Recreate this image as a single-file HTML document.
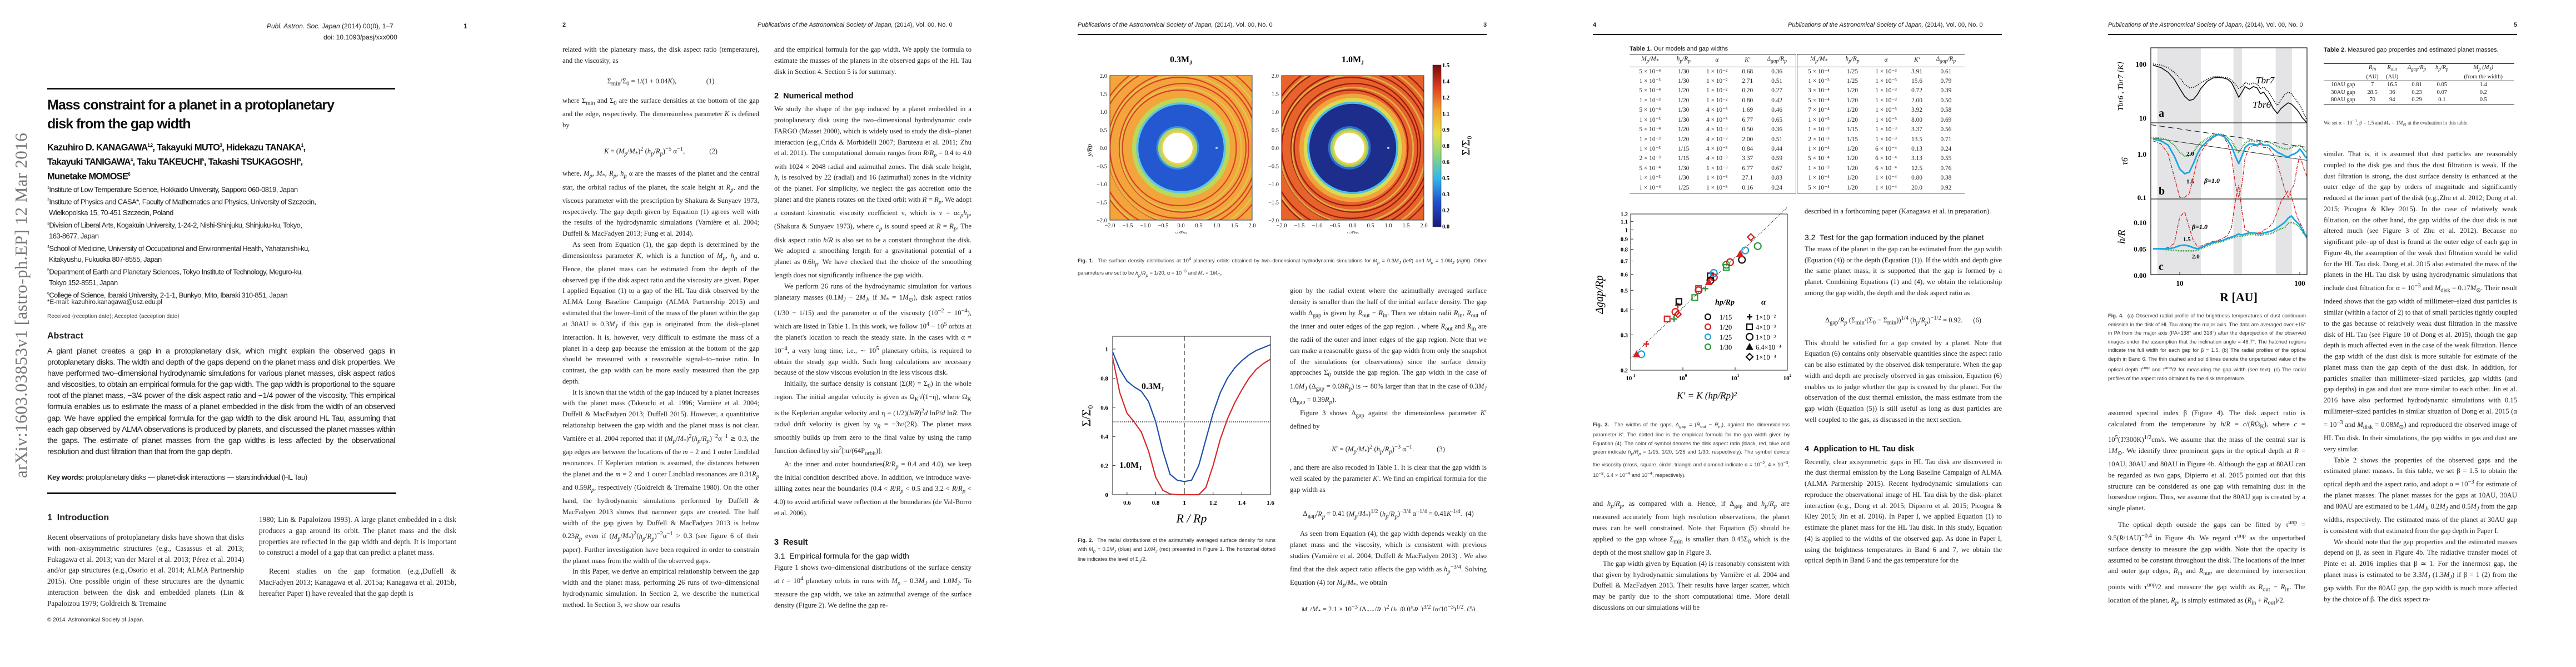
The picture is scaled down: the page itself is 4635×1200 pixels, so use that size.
<!DOCTYPE html>
<html><head><meta charset="utf-8">
<style>
*{margin:0;padding:0;box-sizing:border-box}
body{width:4635px;height:1200px;background:#fff;overflow:hidden;position:relative;font-family:"Liberation Serif",serif;color:#222}
.pg{position:absolute;top:0;width:927px;height:1200px;background:#fff}
.hdr{position:absolute;top:39px;font:italic 11px "Liberation Sans",sans-serif;color:#222}
.pn{position:absolute;top:39px;font:bold 11px "Liberation Sans",sans-serif}
.rule{position:absolute;top:61px;left:85px;width:736px;height:2px;background:#111}
.col{position:absolute;font:12.6px/19.75px "Liberation Serif",serif;text-align:justify;overflow:hidden;color:#222}
.col p{text-indent:18px}
.col p.ni{text-indent:0}
.cap{position:absolute;font:9.3px/15.5px "Liberation Sans",sans-serif;text-align:justify;color:#333}
.h2{font:bold 14.5px "Liberation Sans",sans-serif;margin:14px 0 6px;color:#111}
.h3{font:14px "Liberation Sans",sans-serif;margin:8px 0 4px;color:#111}
.eq{text-align:center;margin:6px 0;white-space:nowrap}
svg text{font-family:"Liberation Serif",serif}
table{border-collapse:collapse}
</style></head><body>

<!-- PAGE 1 -->
<div class="pg" style="left:0">
  <div style="position:absolute;left:20px;top:860px;transform:rotate(-90deg);transform-origin:0 0;font:31px 'Liberation Serif',serif;color:#777;white-space:nowrap;letter-spacing:0.5px">arXiv:1603.03853v1  [astro-ph.EP]  12 Mar 2016</div>
  <div style="position:absolute;left:480px;top:40px;font:italic 12px 'Liberation Sans',sans-serif">Publ. Astron. Soc. Japan <span style="font-style:normal">(2014) 00(0), 1–7</span></div>
  <div class="pn" style="left:834px;top:40px;font-size:12px">1</div>
  <div style="position:absolute;left:582px;top:60px;font:12px 'Liberation Sans',sans-serif">doi: 10.1093/pasj/xxx000</div>
  <div style="position:absolute;left:85px;top:158px;width:626px;height:3px;background:#111"></div>
  <div style="position:absolute;left:85px;top:172px;white-space:nowrap;font:bold 25px/34px 'Liberation Sans',sans-serif;letter-spacing:-1px;color:#111">Mass constraint for a planet in a protoplanetary<br>disk from the gap width</div>
  <div style="position:absolute;left:85px;top:251px;white-space:nowrap;font:bold 16.5px/22.5px 'Liberation Sans',sans-serif;letter-spacing:-0.7px;color:#111">Kazuhiro D. KANAGAWA<sup style="font-size:8px">1,2</sup>, Takayuki MUTO<sup style="font-size:8px">3</sup>, Hidekazu TANAKA<sup style="font-size:8px">1</sup>,<br>Takayuki TANIGAWA<sup style="font-size:8px">4</sup>, Taku TAKEUCHI<sup style="font-size:8px">5</sup>, Takashi TSUKAGOSHI<sup style="font-size:8px">6</sup>,<br>Munetake MOMOSE<sup style="font-size:8px">6</sup></div>
  <div style="position:absolute;left:85px;top:329px;white-space:nowrap;font:13px/19.8px 'Liberation Sans',sans-serif;letter-spacing:-0.55px;color:#222">
  <sup style="font-size:7px">1</sup>Institute of Low Temperature Science, Hokkaido University, Sapporo 060-0819, Japan<br>
  <sup style="font-size:7px">2</sup>Institute of Physics and CASA*, Faculty of Mathematics and Physics, University of Szczecin,<br>&nbsp;Wielkopolska 15, 70-451 Szczecin, Poland<br>
  <sup style="font-size:7px">3</sup>Division of Liberal Arts, Kogakuin University, 1-24-2, Nishi-Shinjuku, Shinjuku-ku, Tokyo,<br>&nbsp;163-8677, Japan<br>
  <sup style="font-size:7px">4</sup>School of Medicine, University of Occupational and Environmental Health, Yahatanishi-ku,<br>&nbsp;Kitakyushu, Fukuoka 807-8555, Japan<br>
  <sup style="font-size:7px">5</sup>Department of Earth and Planetary Sciences, Tokyo Institute of Technology, Meguro-ku,<br>&nbsp;Tokyo 152-8551, Japan<br>
  <sup style="font-size:7px">6</sup>College of Science, Ibaraki University, 2-1-1, Bunkyo, Mito, Ibaraki 310-851, Japan</div>
  <div style="position:absolute;left:85px;top:538px;font:11.5px 'Liberation Sans',sans-serif">*E-mail: kazuhiro.kanagawa@usz.edu.pl</div>
  <div style="position:absolute;left:85px;top:564px;font:10px 'Liberation Sans',sans-serif;color:#444">Received ⟨reception date⟩; Accepted ⟨acception date⟩</div>
  <div style="position:absolute;left:85px;top:596px;font:bold 16px 'Liberation Sans',sans-serif">Abstract</div>
  <div style="position:absolute;left:85px;top:622px;width:626px;font:14.2px/20.1px 'Liberation Sans',sans-serif;letter-spacing:-0.45px;text-align:justify;color:#222">A giant planet creates a gap in a protoplanetary disk, which might explain the observed gaps in protoplanetary disks. The width and depth of the gaps depend on the planet mass and disk properties. We have performed two–dimensional hydrodynamic simulations for various planet masses, disk aspect ratios and viscosities, to obtain an empirical formula for the gap width. The gap width is proportional to the square root of the planet mass, −3/4 power of the disk aspect ratio and −1/4 power of the viscosity. This empirical formula enables us to estimate the mass of a planet embedded in the disk from the width of an observed gap. We have applied the empirical formula for the gap width to the disk around HL Tau, assuming that each gap observed by ALMA observations is produced by planets, and discussed the planet masses within the gaps. The estimate of planet masses from the gap widths is less affected by the observational resolution and dust filtration than that from the gap depth.</div>
  <div style="position:absolute;left:85px;top:851px;font:13px 'Liberation Sans',sans-serif;letter-spacing:-0.4px"><b>Key words:</b> protoplanetary disks — planet-disk interactions — stars:individual (HL Tau)</div>
  <div style="position:absolute;left:85px;top:886px;width:628px;height:3px;background:#111"></div>
  <div style="position:absolute;left:85px;top:923px;font:bold 16px 'Liberation Sans',sans-serif">1&nbsp; Introduction</div>
  <div class="col" style="left:85px;top:957px;width:354px;height:140px;line-height:19.8px;font-size:13.2px"><p class="ni">Recent observations of protoplanetary disks have shown that disks with non–axisymmetric structures (e.g., Casassus et al. 2013; Fukagawa et al. 2013; van der Marel et al. 2013; Pérez et al. 2014) and/or gap structures (e.g.,Osorio et al. 2014; ALMA Partnership 2015). One possible origin of these structures are the dynamic interaction between the disk and embedded planets (Lin &amp; Papaloizou 1979; Goldreich &amp; Tremaine</p></div>
  <div class="col" style="left:466px;top:925px;width:355px;height:180px;line-height:19.8px;font-size:13.2px"><p class="ni">1980; Lin &amp; Papaloizou 1993). A large planet embedded in a disk produces a gap around its orbit. The planet mass and the disk properties are reflected in the gap width and depth. It is important to construct a model of a gap that can predict a planet mass.</p><p style="margin-top:14px">Recent studies on the gap formation (e.g.,Duffell &amp; MacFadyen 2013; Kanagawa et al. 2015a; Kanagawa et al. 2015b, hereafter Paper I) have revealed that the gap depth is</p></div>
  <div style="position:absolute;left:85px;top:1110px;font:10px 'Liberation Sans',sans-serif">© 2014. Astronomical Society of Japan.</div>
</div>

<!-- PAGE 2 -->
<div class="pg" style="left:927px">
  <div class="pn" style="left:85px">2</div>
  <div class="hdr" style="left:436px">Publications of the Astronomical Society of Japan, <span style="font-style:normal">(2014), Vol. 00, No. 0</span></div>
  <div class="col" style="left:85px;top:80px;width:354px;height:1015px">
   <p class="ni">related with the planetary mass, the disk aspect ratio (temperature), and the viscosity, as</p>
   <div class="eq" style="height:40px;line-height:40px">Σ<sub>min</sub>/Σ<sub>0</sub> = 1/(1 + 0.04<i>K</i>), &nbsp;&nbsp;&nbsp;&nbsp;&nbsp;&nbsp;&nbsp;&nbsp;&nbsp;&nbsp;&nbsp;&nbsp;&nbsp;&nbsp;&nbsp;&nbsp;(1)</div>
   <p class="ni">where Σ<sub>min</sub> and Σ<sub>0</sub> are the surface densities at the bottom of the gap and the edge, respectively. The dimensionless parameter <i>K</i> is defined by</p>
   <div class="eq" style="height:56px;line-height:56px"><i>K</i> ≡ (<i>M<sub>p</sub></i>/<i>M</i><sub>*</sub>)<sup>2</sup> (<i>h<sub>p</sub></i>/<i>R<sub>p</sub></i>)<sup>−5</sup> α<sup>−1</sup>, &nbsp;&nbsp;&nbsp;&nbsp;&nbsp;&nbsp;&nbsp;&nbsp;&nbsp;&nbsp;&nbsp;&nbsp;&nbsp;(2)</div>
   <p class="ni">where, <i>M<sub>p</sub></i>, <i>M</i><sub>*</sub>, <i>R<sub>p</sub></i>, <i>h<sub>p</sub></i> α are the masses of the planet and the central star, the orbital radius of the planet, the scale height at <i>R<sub>p</sub></i>, and the viscous parameter with the prescription by Shakura &amp; Sunyaev 1973, respectively. The gap depth given by Equation (1) agrees well with the results of the hydrodynamic simulations (Varnière et al. 2004; Duffell &amp; MacFadyen 2013; Fung et al. 2014).</p>
   <p>As seen from Equation (1), the gap depth is determined by the dimensionless parameter <i>K</i>, which is a function of <i>M<sub>p</sub></i>, <i>h<sub>p</sub></i> and α. Hence, the planet mass can be estimated from the depth of the observed gap if the disk aspect ratio and the viscosity are given. Paper I applied Equation (1) to a gap of the HL Tau disk observed by the ALMA Long Baseline Campaign (ALMA Partnership 2015) and estimated that the lower–limit of the mass of the planet within the gap at 30AU is 0.3<i>M<sub>J</sub></i> if this gap is originated from the disk–planet interaction. It is, however, very difficult to estimate the mass of a planet in a deep gap because the emission at the bottom of the gap should be measured with a reasonable signal–to–noise ratio. In contrast, the gap width can be more easily measured than the gap depth.</p>
   <p>It is known that the width of the gap induced by a planet increases with the planet mass (Takeuchi et al. 1996; Varnière et al. 2004; Duffell &amp; MacFadyen 2013; Duffell 2015). However, a quantitative relationship between the gap width and the planet mass is not clear. Varnière et al. 2004 reported that if (<i>M<sub>p</sub></i>/<i>M</i><sub>*</sub>)<sup>2</sup>(<i>h<sub>p</sub></i>/<i>R<sub>p</sub></i>)<sup>−2</sup>α<sup>−1</sup> ≳ 0.3, the gap edges are between the locations of the <i>m</i> = 2 and 1 outer Lindblad resonances. If Keplerian rotation is assumed, the distances between the planet and the <i>m</i> = 2 and 1 outer Lindblad resonances are 0.31<i>R<sub>p</sub></i> and 0.59<i>R<sub>p</sub></i>, respectively (Goldreich &amp; Tremaine 1980). On the other hand, the hydrodynamic simulations performed by Duffell &amp; MacFadyen 2013 shows that narrower gaps are created. The half width of the gap given by Duffell &amp; MacFadyen 2013 is below 0.23<i>R<sub>p</sub></i> even if (<i>M<sub>p</sub></i>/<i>M</i><sub>*</sub>)<sup>2</sup>(<i>h<sub>p</sub></i>/<i>R<sub>p</sub></i>)<sup>−2</sup>α<sup>−1</sup> &gt; 0.3 (see figure 6 of their paper). Further investigation have been required in order to constrain the planet mass from the width of the observed gaps.</p>
   <p>In this Paper, we derive an empirical relationship between the gap width and the planet mass, performing 26 runs of two–dimensional hydrodynamic simulation. In Section 2, we describe the numerical method. In Section 3, we show our results</p>
  </div>
  <div class="col" style="left:466px;top:80px;width:355px;height:1015px">
   <p class="ni">and the empirical formula for the gap width. We apply the formula to estimate the masses of the planets in the observed gaps of the HL Tau disk in Section 4. Section 5 is for summary.</p>
   <div class="h2" style="margin-top:26px">2&nbsp; Numerical method</div>
   <p class="ni">We study the shape of the gap induced by a planet embedded in a protoplanetary disk using the two–dimensional hydrodynamic code FARGO (Masset 2000), which is widely used to study the disk–planet interaction (e.g.,Crida &amp; Morbidelli 2007; Baruteau et al. 2011; Zhu et al. 2011). The computational domain ranges from <i>R</i>/<i>R<sub>p</sub></i> = 0.4 to 4.0 with 1024 × 2048 radial and azimuthal zones. The disk scale height, <i>h</i>, is resolved by 22 (radial) and 16 (azimuthal) zones in the vicinity of the planet. For simplicity, we neglect the gas accretion onto the planet and the planets rotates on the fixed orbit with <i>R</i> = <i>R<sub>p</sub></i>. We adopt a constant kinematic viscosity coefficient ν, which is ν = α<i>c<sub>p</sub>h<sub>p</sub></i>, (Shakura &amp; Sunyaev 1973), where <i>c<sub>p</sub></i> is sound speed at <i>R</i> = <i>R<sub>p</sub></i>. The disk aspect ratio <i>h</i>/<i>R</i> is also set to be a constant throughout the disk. We adopted a smoothing length for a gravitational potential of a planet as 0.6<i>h<sub>p</sub></i>. We have checked that the choice of the smoothing length does not significantly influence the gap width.</p>
   <p>We perform 26 runs of the hydrodynamic simulation for various planetary masses (0.1<i>M<sub>J</sub></i> − 2<i>M<sub>J</sub></i>, if <i>M</i><sub>*</sub> = 1<i>M</i><sub>⊙</sub>), disk aspect ratios (1/30 − 1/15) and the parameter α of the viscosity (10<sup>−2</sup> − 10<sup>−4</sup>), which are listed in Table 1. In this work, we follow 10<sup>4</sup> − 10<sup>5</sup> orbits at the planet's location to reach the steady state. In the cases with α = 10<sup>−4</sup>, a very long time, i.e., ∼ 10<sup>5</sup> planetary orbits, is required to obtain the steady gap width. Such long calculations are necessary because of the slow viscous evolution in the less viscous disk.</p>
   <p>Initially, the surface density is constant (Σ(<i>R</i>) = Σ<sub>0</sub>) in the whole region. The initial angular velocity is given as Ω<sub>K</sub>√(1−η), where Ω<sub>K</sub> is the Keplerian angular velocity and η = (1/2)(<i>h</i>/<i>R</i>)<sup>2</sup><i>d</i> ln<i>P</i>/<i>d</i> ln<i>R</i>. The radial drift velocity is given by <i>v<sub>R</sub></i> = −3ν/(2<i>R</i>). The planet mass smoothly builds up from zero to the final value by using the ramp function defined by sin<sup>2</sup>[π<i>t</i>/(64P<sub>orbit</sub>)].</p>
   <p>At the inner and outer boundaries(<i>R</i>/<i>R<sub>p</sub></i> = 0.4 and 4.0), we keep the initial condition described above. In addition, we introduce wave-killing zones near the boundaries (0.4 &lt; <i>R</i>/<i>R<sub>p</sub></i> &lt; 0.5 and 3.2 &lt; <i>R</i>/<i>R<sub>p</sub></i> &lt; 4.0) to avoid artificial wave reflection at the boundaries (de Val-Borro et al. 2006).</p>
   <div class="h2" style="margin-top:34px">3&nbsp; Result</div>
   <div class="h3">3.1&nbsp; Empirical formula for the gap width</div>
   <p class="ni">Figure 1 shows two–dimensional distributions of the surface density at <i>t</i> = 10<sup>4</sup> planetary orbits in runs with <i>M<sub>p</sub></i> = 0.3<i>M<sub>J</sub></i> and 1.0<i>M<sub>J</sub></i>. To measure the gap width, we take an azimuthal average of the surface density (Figure 2). We define the gap re-</p>
  </div>
</div>

<!-- PAGE 3 -->
<div class="pg" style="left:1854px">
  <div class="hdr" style="left:85px">Publications of the Astronomical Society of Japan, <span style="font-style:normal">(2014), Vol. 00, No. 0</span></div>
  <div class="pn" style="left:815px">3</div>
  <div class="rule"></div>
  <svg id="fig1" style="position:absolute;left:0;top:80px" width="927" height="340"></svg>
  <div class="cap" style="left:85px;top:458px;width:736px"><b>Fig. 1.</b>&nbsp; The surface density distributions at 10<sup>4</sup> planetary orbits obtained by two–dimensional hydrodynamic simulations for <i>M<sub>p</sub></i> = 0.3<i>M<sub>J</sub></i> (<i>left</i>) and <i>M<sub>p</sub></i> = 1.0<i>M<sub>J</sub></i> (<i>right</i>). Other parameters are set to be <i>h<sub>p</sub></i>/<i>R<sub>p</sub></i> = 1/20, α = 10<sup>−3</sup> and <i>M</i><sub>*</sub> = 1<i>M</i><sub>⊙</sub>.</div>
  <svg id="fig2" style="position:absolute;left:0;top:580px" width="460" height="380"></svg>
  <div class="cap" style="left:85px;top:965px;width:356px"><b>Fig. 2.</b>&nbsp; The radial distributions of the azimuthally averaged surface density for runs with <i>M<sub>p</sub></i> = 0.3<i>M<sub>J</sub></i> (blue) and 1.0<i>M<sub>J</sub></i> (red) presented in Figure 1. The horizontal dotted line indicates the level of Σ<sub>0</sub>/2.</div>
  <div class="col" style="left:467px;top:514px;width:354px;height:585px">
   <p class="ni">gion by the radial extent where the azimuthally averaged surface density is smaller than the half of the initial surface density. The gap width Δ<sub>gap</sub> is given by <i>R</i><sub>out</sub> − <i>R</i><sub>in</sub>. Then we obtain radii <i>R</i><sub>in</sub>, <i>R</i><sub>out</sub> of the inner and outer edges of the gap region. , where <i>R</i><sub>out</sub> and <i>R</i><sub>in</sub> are the radii of the outer and inner edges of the gap region. Note that we can make a reasonable guess of the gap width from only the snapshot of the simulations (or observations) since the surface density approaches Σ<sub>0</sub> outside the gap region. The gap width in the case of 1.0<i>M<sub>J</sub></i> (Δ<sub>gap</sub> = 0.69<i>R<sub>p</sub></i>) is ∼ 80% larger than that in the case of 0.3<i>M<sub>J</sub></i> (Δ<sub>gap</sub> = 0.39<i>R<sub>p</sub></i>).</p>
   <p>Figure 3 shows Δ<sub>gap</sub> against the dimensionless parameter <i>K</i>′ defined by</p>
   <div class="eq" style="height:42px;line-height:42px"><i>K</i>′ = (<i>M<sub>p</sub></i>/<i>M</i><sub>*</sub>)<sup>2</sup> (<i>h<sub>p</sub></i>/<i>R<sub>p</sub></i>)<sup>−3</sup> α<sup>−1</sup>. &nbsp;&nbsp;&nbsp;&nbsp;&nbsp;&nbsp;&nbsp;&nbsp;&nbsp;&nbsp;&nbsp;&nbsp;(3)</div>
   <p class="ni">, and there are also recoded in Table 1. It is clear that the gap width is well scaled by the parameter <i>K</i>′. We find an empirical formula for the gap width as</p>
   <div class="eq" style="height:48px;line-height:48px">Δ<sub>gap</sub>/<i>R<sub>p</sub></i> = 0.41 (<i>M<sub>p</sub></i>/<i>M</i><sub>*</sub>)<sup>1/2</sup> (<i>h<sub>p</sub></i>/<i>R<sub>p</sub></i>)<sup>−3/4</sup> α<sup>−1/4</sup> = 0.41<i>K</i>′<sup>1/4</sup>. &nbsp;(4)</div>
   <p>As seen from Equation (4), the gap width depends weakly on the planet mass and the viscosity, which is consistent with previous studies (Varnière et al. 2004; Duffell &amp; MacFadyen 2013) . We also find that the disk aspect ratio affects the gap width as <i>h<sub>p</sub></i><sup>−3/4</sup>. Solving Equation (4) for <i>M<sub>p</sub></i>/<i>M</i><sub>*</sub>, we obtain</p>
   <div class="eq" style="height:48px;line-height:48px"><i>M<sub>p</sub></i>/<i>M</i><sub>*</sub> = 2.1 × 10<sup>−3</sup> (Δ<sub>gap</sub>/<i>R<sub>p</sub></i>)<sup>2</sup> (<i>h<sub>p</sub></i>/0.05<i>R<sub>p</sub></i>)<sup>3/2</sup> (α/10<sup>−3</sup>)<sup>1/2</sup>. (5)</div>
   <p class="ni">This equation allows us to estimate the planet mass from the observation gap width. The planet mass strongly depends on Δ<sub>gap</sub></p>
  </div>
</div>

<!-- PAGE 4 -->
<div class="pg" style="left:2781px">
  <div class="pn" style="left:85px">4</div>
  <div class="hdr" style="left:436px">Publications of the Astronomical Society of Japan, <span style="font-style:normal">(2014), Vol. 00, No. 0</span></div>
  <div class="rule"></div>
  <div style="position:absolute;left:151px;top:82px;font:11px 'Liberation Sans',sans-serif"><b>Table 1.</b> Our models and gap widths</div>
  <div id="t1" style="position:absolute;left:151px;top:97px;width:603px"></div>
  <svg id="fig3" style="position:absolute;left:0;top:370px" width="460" height="380"></svg>
  <div class="cap" style="left:85px;top:757px;width:354px"><b>Fig. 3.</b>&nbsp; The widths of the gaps, Δ<sub>gap</sub> = (<i>R</i><sub>out</sub> − <i>R</i><sub>in</sub>), against the dimensionless parameter <i>K</i>′. The dotted line is the empirical formula for the gap width given by Equation (4). The color of symbol denotes the disk aspect ratio (black, red, blue and green indicate <i>h<sub>p</sub></i>/<i>R<sub>p</sub></i> = 1/15, 1/20, 1/25 and 1/30, respectively). The symbol denote the viscosity (cross, square, circle, triangle and diamond indicate α = 10<sup>−2</sup>, 4 × 10<sup>−3</sup>, 10<sup>−3</sup>, 6.4 × 10<sup>−4</sup> and 10<sup>−4</sup>, respectively).</div>
  <div class="col" style="left:85px;top:897px;width:354px;height:200px">
   <p class="ni">and <i>h<sub>p</sub></i>/<i>R<sub>p</sub></i>, as compared with α. Hence, if Δ<sub>gap</sub> and <i>h<sub>p</sub></i>/<i>R<sub>p</sub></i> are measured accurately from high resolution observations, the planet mass can be well constrained. Note that Equation (5) should be applied to the gap whose Σ<sub>min</sub> is smaller than 0.45Σ<sub>0</sub> which is the depth of the most shallow gap in Figure 3.</p>
   <p>The gap width given by Equation (4) is reasonably consistent with that given by hydrodynamic simulations by Varnière et al. 2004 and Duffell &amp; MacFadyen 2013. Their results have larger scatter, which may be partly due to the short computational time. More detail discussions on our simulations will be</p>
  </div>
  <div class="col" style="left:466px;top:371px;width:355px;height:728px">
   <p class="ni">described in a forthcoming paper (Kanagawa et al. in preparation).</p>
   <div class="h3" style="margin-top:28px">3.2&nbsp; Test for the gap formation induced by the planet</div>
   <p class="ni">The mass of the planet in the gap can be estimated from the gap width (Equation (4)) or the depth (Equation (1)). If the width and depth give the same planet mass, it is supported that the gap is formed by a planet. Combining Equations (1) and (4), we obtain the relationship among the gap width, the depth and the disk aspect ratio as</p>
   <div class="eq" style="height:58px;line-height:58px">Δ<sub>gap</sub>/<i>R<sub>p</sub></i> (Σ<sub>min</sub>/(Σ<sub>0</sub> − Σ<sub>min</sub>))<sup>1/4</sup> (<i>h<sub>p</sub></i>/<i>R<sub>p</sub></i>)<sup>−1/2</sup> = 0.92. &nbsp;&nbsp;&nbsp;&nbsp;&nbsp;(6)</div>
   <p class="ni">This should be satisfied for a gap created by a planet. Note that Equation (6) contains only observable quantities since the aspect ratio can be also estimated by the observed disk temperature. When the gap width and depth are precisely observed in gas emission, Equation (6) enables us to judge whether the gap is created by the planet. For the observation of the dust thermal emission, the mass estimate from the gap width (Equation (5)) is still useful as long as dust particles are well coupled to the gas, as discussed in the next section.</p>
   <div class="h2" style="margin-top:34px">4&nbsp; Application to HL Tau disk</div>
   <p class="ni">Recently, clear axisymmetric gaps in HL Tau disk are discovered in the dust thermal emission by the Long Baseline Campaign of ALMA (ALMA Partnership 2015). Recent hydrodynamic simulations can reproduce the observational image of HL Tau disk by the disk–planet interaction (e.g., Dong et al. 2015; Dipierro et al. 2015; Picogna &amp; Kley 2015; Jin et al. 2016). In Paper I, we applied Equation (1) to estimate the planet mass for the HL Tau disk. In this study, Equation (4) is applied to the widths of the observed gap. As done in Paper I, using the brightness temperatures in Band 6 and 7, we obtain the optical depth in Band 6 and the gas temperature for the</p>
  </div>
</div>

<!-- PAGE 5 -->
<div class="pg" style="left:3708px">
  <div class="hdr" style="left:85px">Publications of the Astronomical Society of Japan, <span style="font-style:normal">(2014), Vol. 00, No. 0</span></div>
  <div class="pn" style="left:815px">5</div>
  <div class="rule"></div>
  <svg id="fig4" style="position:absolute;left:0;top:70px" width="460" height="480"></svg>
  <div class="cap" style="left:85px;top:561px;width:356px"><b>Fig. 4.</b>&nbsp; (a) Observed radial profile of the brightness temperatures of dust continuum emission in the disk of HL Tau along the major axis. The data are averaged over ±15° in PA from the major axis (PA=138° and 318°) after the deprojection of the observed images under the assumption that the inclination angle = 46.7°. The hatched regions indicate the full width for each gap for β = 1.5. (b) The radial profiles of the optical depth in Band 6. The thin dashed and solid lines denote the unperturbed value of the optical depth τ<sup>unp</sup> and τ<sup>unp</sup>/2 for measuring the gap width (see text). (c) The radial profiles of the aspect ratio obtained by the disk temperature.</div>
  <div class="col" style="left:85px;top:734px;width:355px;height:365px">
   <p class="ni">assumed spectral index β (Figure 4). The disk aspect ratio is calculated from the temperature by <i>h</i>/<i>R</i> = <i>c</i>/(<i>R</i>Ω<sub>K</sub>), where <i>c</i> = 10<sup>5</sup>(<i>T</i>/300K)<sup>1/2</sup>cm/s. We assume that the mass of the central star is 1<i>M</i><sub>⊙</sub>. We identify three prominent gaps in the optical depth at <i>R</i> = 10AU, 30AU and 80AU in Figure 4b. Although the gap at 80AU can be regarded as two gaps, Dipierro et al. 2015 pointed out that this structure can be considered as one gap with remaining dust in the horseshoe region. Thus, we assume that the 80AU gap is created by a single planet.</p>
   <p style="margin-top:6px">The optical depth outside the gaps can be fitted by τ<sup>unp</sup> = 9.5(<i>R</i>/1AU)<sup>−0.4</sup> in Figure 4b. We regard τ<sup>unp</sup> as the unperturbed surface density to measure the gap width. Note that the opacity is assumed to be constant throughout the disk. The locations of the inner and outer gap edges, <i>R</i><sub>in</sub> and <i>R</i><sub>out</sub>, are determined by intersection points with τ<sup>unp</sup>/2 and measure the gap width as <i>R</i><sub>out</sub> − <i>R</i><sub>in</sub>. The location of the planet, <i>R<sub>p</sub></i>, is simply estimated as (<i>R</i><sub>in</sub> + <i>R</i><sub>out</sub>)/2.</p>
   <p style="margin-top:6px">We assume that the gap widths of the gas and dust disks are</p>
  </div>
  <div style="position:absolute;left:473px;top:82px;width:330px;font:11px/17px 'Liberation Sans',sans-serif"><b>Table 2.</b> Measured gap properties and estimated planet masses.</div>
  <div id="t2" style="position:absolute;left:473px;top:114px;width:343px"></div>
  <div class="cap" style="left:473px;top:210px;width:345px;font:9.3px/15.5px 'Liberation Serif',serif">We set α = 10<sup>−3</sup>, β = 1.5 and <i>M</i><sub>*</sub> = 1<i>M</i><sub>⊙</sub> at the evaluation in this table.</div>
  <div class="col" style="left:473px;top:268px;width:348px;height:830px">
   <p class="ni">similar. That is, it is assumed that dust particles are reasonably coupled to the disk gas and thus the dust filtration is weak. If the dust filtration is strong, the dust surface density is enhanced at the outer edge of the gap by orders of magnitude and significantly reduced at the inner part of the disk (e.g.,Zhu et al. 2012; Dong et al. 2015; Picogna &amp; Kley 2015). In the case of relatively weak filtration, on the other hand, the gap widths of the dust disk is not altered much (see Figure 3 of Zhu et al. 2012). Because no significant pile–up of dust is found at the outer edge of each gap in Figure 4b, the assumption of the weak dust filtration would be valid for the HL Tau disk. Dong et al. 2015 also estimated the mass of the planets in the HL Tau disk by using hydrodynamic simulations that include dust filtration for α = 10<sup>−3</sup> and <i>M</i><sub>disk</sub> = 0.17<i>M</i><sub>⊙</sub>. Their result indeed shows that the gap width of millimeter–sized dust particles is similar (within a factor of 2) to that of small particles tightly coupled to the gas because of relatively weak dust filtration in the massive disk of HL Tau (see Figure 10 of Dong et al. 2015), though the gap depth is much affected even in the case of the weak filtration. Hence the gap width of the dust disk is more suitable for estimate of the planet mass than the gap depth of the dust disk. In addition, for particles smaller than millimeter–sized particles, gap widths (and gap depths) in gas and dust are more similar to each other. Jin et al. 2016 have also performed hydrodynamic simulations with 0.15 millimeter–sized particles in similar situation of Dong et al. 2015 (α = 10<sup>−3</sup> and <i>M</i><sub>disk</sub> = 0.08<i>M</i><sub>⊙</sub>) and reproduced the observed image of HL Tau disk. In their simulations, the gap widths in gas and dust are very similar.</p>
   <p>Table 2 shows the properties of the observed gaps and the estimated planet masses. In this table, we set β = 1.5 to obtain the optical depth and the aspect ratio, and adopt α = 10<sup>−3</sup> for estimate of the planet masses. The planet masses for the gaps at 10AU, 30AU and 80AU are estimated to be 1.4<i>M<sub>J</sub></i>, 0.2<i>M<sub>J</sub></i> and 0.5<i>M<sub>J</sub></i> from the gap widths, respectively. The estimated mass of the planet at 30AU gap is consistent with that estimated from the gap depth in Paper I.</p>
   <p>We should note that the gap properties and the estimated masses depend on β, as seen in Figure 4b. The radiative transfer model of Pinte et al. 2016 implies that β ≃ 1. For the innermost gap, the planet mass is estimated to be 3.3<i>M<sub>J</sub></i> (1.3<i>M<sub>J</sub></i>) if β = 1 (2) from the gap width. For the 80AU gap, the gap width is much more affected by the choice of β. The disk aspect ra-</p>
  </div>
</div>

<script>
// ---------- Figure 2 data ----------
const f2R = [0.5,0.55,0.6,0.65,0.7,0.75,0.8,0.85,0.9,0.95,1.0,1.05,1.1,1.15,1.2,1.25,1.3,1.35,1.4,1.45,1.5,1.55,1.6];
const f2Blue = [0.98,0.86,0.78,0.74,0.71,0.64,0.50,0.30,0.14,0.10,0.09,0.10,0.20,0.38,0.56,0.70,0.80,0.87,0.92,0.96,0.99,1.01,1.03];
const f2Red = [0.94,0.70,0.56,0.50,0.43,0.30,0.12,0.03,0.005,0,0,0,0,0.05,0.20,0.38,0.52,0.63,0.72,0.80,0.86,0.90,0.93];
const f2XTicks = [0.6,0.8,1,1.2,1.4,1.6];
const f2YTicks = [0,0.2,0.4,0.6,0.8,1];
// ---------- Figure 3 data (Table 1) ----------
const t1Mp = ["5 × 10⁻⁴","1 × 10⁻³","5 × 10⁻⁴","1 × 10⁻³","5 × 10⁻⁴","1 × 10⁻³","5 × 10⁻⁴","1 × 10⁻³","1 × 10⁻³","2 × 10⁻³","5 × 10⁻⁴","1 × 10⁻³","1 × 10⁻⁴","5 × 10⁻⁴","1 × 10⁻³","3 × 10⁻⁴","5 × 10⁻⁴","7 × 10⁻⁴","1 × 10⁻³","1 × 10⁻³","2 × 10⁻³","1 × 10⁻⁴","5 × 10⁻⁴","1 × 10⁻³","1 × 10⁻⁴","5 × 10⁻⁴"];
const t1H = ["1/30","1/30","1/20","1/20","1/30","1/30","1/20","1/20","1/15","1/15","1/30","1/30","1/25","1/25","1/25","1/20","1/20","1/20","1/20","1/15","1/15","1/20","1/20","1/20","1/20","1/20"];
const t1Alpha = ["1e-2","1e-2","1e-2","1e-2","4e-3","4e-3","4e-3","4e-3","4e-3","4e-3","1e-3","1e-3","1e-3","1e-3","1e-3","1e-3","1e-3","1e-3","1e-3","1e-3","1e-3","6e-4","6e-4","6e-4","1e-4","1e-4"];
const t1K = [0.68,2.71,0.20,0.80,1.69,6.77,0.50,2.00,0.84,3.37,6.77,27.1,0.16,3.91,15.6,0.72,2.00,3.92,8.00,3.37,13.5,0.13,3.13,12.5,0.80,20.0];
const t1Gap = [0.36,0.51,0.27,0.42,0.46,0.65,0.36,0.51,0.44,0.59,0.67,0.83,0.24,0.61,0.79,0.39,0.50,0.58,0.69,0.56,0.71,0.24,0.55,0.76,0.38,0.92];
const f3YTicks = [0.2,0.3,0.4,0.5,0.6,0.7,0.8,0.9,1,1.1,1.2];
// ---------- Figure 4 data ----------
const f4R = [6,7,8,9,10,11,12,13,14,15,17,19,21,23,25,27,29,31,33,35,38,41,44,47,50,55,60,65,70,75,80,85,90,95,100,105,110,115];
const f4Tb6 = [95,85,70,52,35,25,21,22,27,35,48,55,56,55,52,45,33,24,30,38,34,38,36,28,30,22,15,12,15,17,19,18,16,14,12,10,9,8];
const f4Tb7 = [100,95,85,70,55,42,36,37,40,45,52,58,58,57,55,50,42,35,38,45,42,44,42,35,37,30,22,17,22,27,30,28,24,20,17,14,11,9];
const f4Tau15 = [2.2,2.0,1.6,0.9,0.45,0.35,0.38,0.6,1.0,1.4,2.0,2.5,2.8,2.6,2.1,1.5,0.9,0.6,0.9,1.4,1.7,1.7,1.6,1.8,1.6,1.6,1.3,1.1,1.0,0.9,0.85,0.95,1.0,1.1,1.3,1.1,0.9,0.8];
const f4Tau10 = [2.0,1.7,1.0,0.3,0.1,0.1,0.12,0.3,0.7,1.1,1.8,2.4,2.8,2.5,1.8,0.9,0.2,0.1,0.2,0.8,1.4,1.6,1.5,1.7,1.4,1.4,1.0,0.6,0.3,0.15,0.1,0.15,0.2,0.5,0.9,0.6,0.4,0.3];
const f4Tau20 = [2.4,2.3,2.1,1.6,1.1,0.9,0.9,1.1,1.5,1.8,2.3,2.7,2.9,2.8,2.4,2.0,1.4,1.1,1.4,1.8,2.0,2.0,1.9,2.0,1.9,1.9,1.7,1.5,1.4,1.3,1.3,1.4,1.5,1.5,1.6,1.4,1.2,1.1];
const f4Hr15 = [0.05,0.05,0.05,0.052,0.056,0.057,0.055,0.052,0.05,0.052,0.058,0.062,0.064,0.066,0.07,0.072,0.075,0.078,0.076,0.078,0.08,0.08,0.079,0.078,0.08,0.082,0.085,0.09,0.095,0.1,0.108,0.112,0.105,0.1,0.095,0.085,0.078,0.07];
const f4Hr10 = [0.05,0.05,0.052,0.06,0.11,0.12,0.09,0.065,0.055,0.055,0.06,0.064,0.066,0.07,0.075,0.09,0.14,0.17,0.12,0.085,0.082,0.08,0.08,0.08,0.085,0.09,0.1,0.12,0.14,0.15,0.16,0.15,0.13,0.11,0.1,0.09,0.08,0.075];
const f4Hr20 = [0.05,0.049,0.048,0.047,0.046,0.046,0.046,0.046,0.047,0.05,0.055,0.06,0.062,0.064,0.068,0.07,0.072,0.074,0.073,0.075,0.077,0.077,0.076,0.075,0.077,0.078,0.08,0.085,0.088,0.09,0.098,0.1,0.098,0.095,0.09,0.082,0.076,0.07];
const f4Gaps = [[6.5,15],[28,33],[63,86]];
// ---------- Table 2 ----------
const t2Names = ["10AU gap","30AU gap","80AU gap"];
const t2Rin = [7,28.5,70];
const t2Rout = [16.5,36,94];
const t2Gap = [0.81,0.23,0.29];
const t2H = [0.05,0.07,0.1];
const t2Mp = [1.4,0.2,0.5];

const NS="http://www.w3.org/2000/svg";
function mk(parent,tag,attrs,txt){const e=document.createElementNS(NS,tag);for(const k in attrs)e.setAttribute(k,attrs[k]);if(txt!==undefined)e.textContent=txt;parent.appendChild(e);return e;}

// ===== Figure 1 =====
(function(){
 const svg=document.getElementById('fig1');
 const defs=mk(svg,'defs',{});
 const g=mk(defs,'linearGradient',{id:'cbar',x1:0,y1:1,x2:0,y2:0});
 [["0","#1a1a7a"],["0.15","#1f4fd0"],["0.3","#30b8f0"],["0.45","#8fd878"],["0.58","#e8e040"],["0.72","#f6a030"],["0.86","#e04020"],["1","#7a0a0a"]].forEach(s=>mk(g,'stop',{offset:s[0],'stop-color':s[1]}));
 const panels=[{x:143,name:'left',bg:'#f3a53c',rings:[[1.38,'#bcd85a'],[1.26,'#5ec6e6'],[1.2,'#2358d0'],[0.6,'#3f90dc'],[0.55,'#a8d870'],[0.48,'#ecd048'],[0.42,'#ffffff']],arm:'#d8402a',title:'0.3M'},
  {x:452,name:'right',bg:'#e8622c',rings:[[1.5,'#f2a23c'],[1.38,'#d9dc52'],[1.28,'#4cbce8'],[1.22,'#1c2d8c'],[0.6,'#2f6ad2'],[0.54,'#8fd070'],[0.48,'#e8d048'],[0.42,'#ffffff']],arm:'#9a1a10',title:'1.0M'}];
 const top=56, W=256, H=260;
 panels.forEach(p=>{
  const cx=p.x+W/2, cy=top+H/2, sx=W/4, sy=H/4;
  const clip=mk(defs,'clipPath',{id:'clip'+p.name});mk(clip,'rect',{x:p.x,y:top,width:W,height:H});
  const grp=mk(svg,'g',{'clip-path':'url(#clip'+p.name+')'});
  
  
  mk(grp,'rect',{x:p.x,y:top,width:W,height:H,fill:p.bg});
  [1.6,1.78,1.95,2.12,2.3,2.5].forEach((r,i)=>mk(grp,'ellipse',{cx:cx+(i%2?3:-3),cy:cy,rx:r*sx,ry:r*sy,fill:'none',stroke:p.arm,'stroke-width':2.2}));
  [1.7,2.05,2.4].forEach(r=>mk(grp,'ellipse',{cx:cx,cy:cy+2,rx:r*sx,ry:r*sy,fill:'none',stroke:'#d8d050','stroke-width':3,opacity:0.7}));
  p.rings.forEach(rc=>mk(grp,'ellipse',{cx:cx+ (rc[0]<0.7?-6:0),cy:cy,rx:rc[0]*sx,ry:rc[0]*sy,fill:rc[1]}));
  mk(grp,'circle',{cx:cx+1.0*sx,cy:cy,r:2,fill:'#9fe0f0'});
  mk(svg,'rect',{x:p.x,y:top,width:W,height:H,fill:'none',stroke:'#333','stroke-width':1});
  const ty=[2.0,1.5,1.0,0.5,0.0,-0.5,-1.0,-1.5,-2.0];
  ty.forEach(v=>{const y=cy-v*sy;mk(svg,'text',{x:p.x-5,y:y+4,'text-anchor':'end','font-size':10.5,fill:'#222'},(v<0?'−':'')+Math.abs(v).toFixed(1));});
  ty.slice().reverse().forEach(v=>{const x=cx+v*sx;mk(svg,'text',{x:x,y:top+H+13,'text-anchor':'middle','font-size':10.5,fill:'#222'},(v<0?'−':'')+Math.abs(v).toFixed(1));});
  mk(svg,'text',{x:cx,y:top+H+28,'text-anchor':'middle','font-size':12,'font-style':'italic'},'x/Rp');
  const tt=mk(svg,'text',{x:cx,y:top-24,'text-anchor':'middle','font-size':16,'font-weight':'bold'},p.title);
  mk(tt,'tspan',{'font-size':10,dy:4},'J');
 });
 mk(svg,'text',{x:110,y:190,'text-anchor':'middle','font-size':12,'font-style':'italic',transform:'rotate(-90 110 190)'},'y/Rp');
 mk(svg,'rect',{x:724,y:37,width:15,height:291,fill:'url(#cbar)',stroke:'#333','stroke-width':0.6});
 const cbl=["1.5","1.4","1.2","1.1","0.9","0.8","0.6","0.5","0.3","0.2","0.0"];
 cbl.forEach((l,i)=>mk(svg,'text',{x:741,y:41+i*29,'font-size':10.5,'font-weight':'bold'},l));
 mk(svg,'text',{x:790,y:182,'text-anchor':'middle','font-size':20,transform:'rotate(-90 790 182)'},'Σ/Σ₀');
})();

// ===== Figure 2 =====
(function(){
 const svg=document.getElementById('fig2');
 const L=148,R=432,T=25,B=310;
 const x=v=>L+(v-0.5)/(1.6-0.5)*(R-L);
 const y=v=>B-(v-0)/(1.0)*(B-48);
 mk(svg,'rect',{x:L,y:T,width:R-L,height:B-T,fill:'none',stroke:'#222','stroke-width':1});
 f2XTicks.forEach(v=>{mk(svg,'line',{x1:x(v),x2:x(v),y1:B,y2:B-5,stroke:'#222'});mk(svg,'text',{x:x(v),y:B+18,'text-anchor':'middle','font-size':11,'font-weight':'bold'},String(v));});
 f2YTicks.forEach(v=>{mk(svg,'line',{x1:L,x2:L+5,y1:y(v),y2:y(v),stroke:'#222'});mk(svg,'text',{x:L-8,y:y(v)+4,'text-anchor':'end','font-size':11,'font-weight':'bold'},String(v));});
 mk(svg,'line',{x1:x(1),x2:x(1),y1:T,y2:B,stroke:'#222','stroke-dasharray':'8 5','stroke-width':1});
 mk(svg,'line',{x1:L,x2:R,y1:y(0.5),y2:y(0.5),stroke:'#111','stroke-dasharray':'1.5 2','stroke-width':1.6});
 const line=(arr,col,nm)=>{const p=mk(svg,'path',{d:f2R.map((r,i)=>(i?'L':'M')+x(r).toFixed(1)+','+y(arr[i]).toFixed(1)).join(''),fill:'none',stroke:col,'stroke-width':2.2});
  };
 line(f2Blue,'#1f4fa8','line-0.3mj');line(f2Red,'#d82828','line-1.0mj');
 let t=mk(svg,'text',{x:200,y:120,'font-size':16,'font-weight':'bold'},'0.3M');mk(t,'tspan',{'font-size':10,dy:4},'J');
 t=mk(svg,'text',{x:160,y:262,'font-size':16,'font-weight':'bold'},'1.0M');mk(t,'tspan',{'font-size':10,dy:4},'J');
 mk(svg,'text',{x:290,y:360,'text-anchor':'middle','font-size':22,'font-style':'italic'},'R / Rp');
 mk(svg,'text',{x:108,y:168,'text-anchor':'middle','font-size':22,transform:'rotate(-90 108 168)'},'Σ/Σ₀');
})();

// ===== Table 1 =====
(function(){
 const d=document.getElementById('t1');
 const fmtA=a=>({"1e-2":"1 × 10⁻²","4e-3":"4 × 10⁻³","1e-3":"1 × 10⁻³","6e-4":"6 × 10⁻⁴","1e-4":"1 × 10⁻⁴"})[a];
 let h='<table style="width:603px;font:11.3px/17.4px \'Liberation Serif\',serif;text-align:center;border-top:1px solid #222;border-bottom:1px solid #222"><tr style="border-bottom:1px solid #222;font-style:italic">';
 const hd=['M<sub>p</sub>/M<sub>*</sub>','h<sub>p</sub>/R<sub>p</sub>','α','K′','Δ<sub>gap</sub>/R<sub>p</sub>'];
 hd.forEach(x=>h+='<td>'+x+'</td>');h+='<td style="border-left:3px double #222"></td>';hd.forEach(x=>h+='<td>'+x+'</td>');h+='</tr>';
 for(let i=0;i<13;i++){h+='<tr>';[i,i+13].forEach((k,j)=>{if(j)h+='<td style="border-left:3px double #222"></td>';h+='<td>'+t1Mp[k]+'</td><td>'+t1H[k]+'</td><td>'+fmtA(t1Alpha[k])+'</td><td>'+t1K[k].toFixed(t1K[k]>=10?1:2)+'</td><td>'+t1Gap[k].toFixed(2)+'</td>';});h+='</tr>';}
 d.innerHTML=h+'</table>';
})();

// ===== Figure 3 =====
(function(){
 const svg=document.getElementById('fig3');
 const L=153,R=435,T=15,B=296;
 const x=v=>L+(Math.log10(v)+1)/3*(R-L);
 const y=v=>B-(Math.log10(v)-Math.log10(0.2))/Math.log10(6)*(B-T);
 mk(svg,'rect',{x:L,y:T,width:R-L,height:B-T,fill:'none',stroke:'#222','stroke-width':1});
 f3YTicks.forEach(v=>{mk(svg,'line',{x1:L,x2:L+5,y1:y(v),y2:y(v),stroke:'#222'});mk(svg,'text',{x:L-5,y:y(v)+4,'text-anchor':'end','font-size':10.5,'font-weight':'bold'},String(v));});
 [-1,0,1,2].forEach(e=>{const xv=x(Math.pow(10,e));mk(svg,'line',{x1:xv,x2:xv,y1:B,y2:B-5,stroke:'#222'});const t=mk(svg,'text',{x:xv,y:B+18,'text-anchor':'middle','font-size':11,'font-weight':'bold'},'10');mk(t,'tspan',{'font-size':7.5,dy:-6},String(e));});
 mk(svg,'line',{x1:x(0.1),y1:y(0.41*Math.pow(0.1,0.25)),x2:x(100),y2:y(0.41*Math.pow(100,0.25)),stroke:'#222','stroke-dasharray':'1.5 2','stroke-width':1.2});
 const col={"1/15":"#111","1/20":"#d82020","1/25":"#1aa0e0","1/30":"#2a9a3a"};
 const sym=(cx,cy,a,c)=>{
  if(a==="1e-2"){mk(svg,'path',{d:`M${cx-5},${cy}h10M${cx},${cy-5}v10`,stroke:c,'stroke-width':2.5});}
  else if(a==="4e-3"){mk(svg,'rect',{x:cx-5,y:cy-5,width:10,height:10,fill:'none',stroke:c,'stroke-width':2.2});}
  else if(a==="1e-3"){mk(svg,'circle',{cx:cx,cy:cy,r:6,fill:'none',stroke:c,'stroke-width':2.2});}
  else if(a==="6e-4"){mk(svg,'path',{d:`M${cx},${cy-6}L${cx+6},${cy+5}L${cx-6},${cy+5}Z`,fill:c,stroke:c,'stroke-width':1});}
  else {mk(svg,'path',{d:`M${cx},${cy-6}L${cx+6},${cy}L${cx},${cy+6}L${cx-6},${cy}Z`,fill:'none',stroke:c,'stroke-width':2.2});}
 };
 t1K.forEach((k,i)=>sym(x(k),y(t1Gap[i]),t1Alpha[i],col[t1H[i]]));
 mk(svg,'text',{x:305,y:178,'font-size':14,'font-weight':'bold','font-style':'italic'},'hp/Rp');
 mk(svg,'text',{x:388,y:178,'font-size':15,'font-weight':'bold','font-style':'italic'},'α');
 ["1/15","1/20","1/25","1/30"].forEach((h,i)=>{mk(svg,'circle',{cx:292,cy:200+i*18,r:5,fill:'none',stroke:col[h],'stroke-width':2.2});mk(svg,'text',{x:313,y:205+i*18,'font-size':12.5},h);});
 ["1e-2","4e-3","1e-3","6e-4","1e-4"].forEach((a,i)=>{sym(367,200+i*18,a,'#111');});
 ["1×10⁻²","4×10⁻³","1×10⁻³","6.4×10⁻⁴","1×10⁻⁴"].forEach((l,i)=>mk(svg,'text',{x:378,y:205+i*18,'font-size':12.5},l));
 mk(svg,'text',{x:290,y:347,'text-anchor':'middle','font-size':17,'font-style':'italic'},"K′ = K (hp/Rp)²");
 mk(svg,'text',{x:103,y:160,'text-anchor':'middle','font-size':20,'font-style':'italic',transform:'rotate(-90 103 160)'},'Δgap/Rp');
})();

// ===== Figure 4 =====
(function(){
 const svg=document.getElementById('fig4');
 const L=162,R=443,T=16,Bend=424;
 const x=v=>214+(Math.log10(v)-1)*216;
 const pb={t:151}, pc={t:288};
 const ya=v=>142-(Math.log10(v)-1)*97;
 const yb=v=>207-Math.log10(v)*78;
 const yc=v=>425-v/0.05*47.5;
 const defs=mk(svg,'defs',{});const cp=mk(defs,'clipPath',{id:'c4'});mk(cp,'rect',{x:L,y:T,width:R-L,height:Bend-T});
 f4Gaps.forEach(g=>{const r=mk(svg,'rect',{x:x(g[0]),y:T,width:x(g[1])-x(g[0]),height:Bend-T,fill:'#e4e4e6'});});
 const G=mk(svg,'g',{'clip-path':'url(#c4)'});
 const path=(arr,fy,col,w,dash,nm)=>{const p=mk(G,'path',{d:f4R.map((r,i)=>(i?'L':'M')+x(r).toFixed(1)+','+fy(arr[i]).toFixed(1)).join(''),fill:'none',stroke:col,'stroke-width':w,'stroke-dasharray':dash||'none','stroke-linejoin':'round'});};
 path(f4Tb7,ya,'#111',1.8,'1.5 2','tbr7-line');
 path(f4Tb6,ya,'#111',1.6,'','tbr6-line');
 mk(G,'line',{x1:x(5.7),y1:yb(9.5*Math.pow(5.7,-0.4)),x2:x(116),y2:yb(9.5*Math.pow(116,-0.4)),stroke:'#111','stroke-dasharray':'10 6','stroke-width':1});
 mk(G,'line',{x1:x(5.7),y1:yb(4.75*Math.pow(5.7,-0.4)),x2:x(116),y2:yb(4.75*Math.pow(116,-0.4)),stroke:'#111','stroke-width':0.8});
 path(f4Tau10,yb,'#d82020',1.4,'6 2 1.5 2','tau-beta1.0');
 path(f4Tau20,yb,'#3aa040',2.6,'1.5 1.5','tau-beta2.0');
 path(f4Tau15,yb,'#1aa6e0',2.8,'','tau-beta1.5');
 path(f4Hr10,yc,'#d82020',1.4,'6 2 1.5 2','hr-beta1.0');
 path(f4Hr20,yc,'#3aa040',2.6,'1.5 1.5','hr-beta2.0');
 path(f4Hr15,yc,'#1aa6e0',2.8,'','hr-beta1.5');
 mk(svg,'rect',{x:L,y:T,width:R-L,height:Bend-T,fill:'none',stroke:'#222','stroke-width':1.3});
 mk(svg,'line',{x1:L,x2:R,y1:pb.t,y2:pb.t,stroke:'#222','stroke-width':1.3});
 mk(svg,'line',{x1:L,x2:R,y1:pc.t,y2:pc.t,stroke:'#222','stroke-width':1.3});
 [["100",ya(100)],["10",ya(10)]].forEach(a=>mk(svg,'text',{x:L-8,y:a[1]+5,'text-anchor':'end','font-size':13,'font-weight':'bold'},a[0]));
 [["1.0",yb(1)],["0.1",yb(0.1)]].forEach(a=>mk(svg,'text',{x:L-8,y:a[1]+5,'text-anchor':'end','font-size':13,'font-weight':'bold'},a[0]));
 [["0.10",yc(0.1)],["0.05",yc(0.05)],["0.00",yc(0)]].forEach(a=>mk(svg,'text',{x:L-8,y:a[1]+5,'text-anchor':'end','font-size':13,'font-weight':'bold'},a[0]));
 [10,100].forEach(v=>{mk(svg,'text',{x:x(v),y:Bend+20,'text-anchor':'middle','font-size':13,'font-weight':'bold'},String(v));mk(svg,'line',{x1:x(v),x2:x(v),y1:Bend,y2:Bend-5,stroke:'#222'});});
 mk(svg,'text',{x:320,y:472,'text-anchor':'middle','font-size':22,'font-weight':'bold'},'R  [AU]');
 mk(svg,'text',{x:176,y:140,'font-size':20,'font-weight':'bold'},'a');
 mk(svg,'text',{x:176,y:280,'font-size':20,'font-weight':'bold'},'b');
 mk(svg,'text',{x:176,y:416,'font-size':20,'font-weight':'bold'},'c');
 mk(svg,'text',{x:351,y:80,'font-size':17,'font-style':'italic'},'Tbr7');
 mk(svg,'text',{x:345,y:124,'font-size':17,'font-style':'italic'},'Tbr6');
 mk(svg,'text',{x:226,y:210,'font-size':11,'font-weight':'bold'},'2.0');
 mk(svg,'text',{x:226,y:260,'font-size':11,'font-weight':'bold'},'1.5');
 mk(svg,'text',{x:258,y:259,'font-size':12,'font-weight':'bold','font-style':'italic'},'β=1.0');
 mk(svg,'text',{x:236,y:342,'font-size':12,'font-weight':'bold','font-style':'italic'},'β=1.0');
 mk(svg,'text',{x:220,y:364,'font-size':11,'font-weight':'bold'},'1.5');
 mk(svg,'text',{x:236,y:395,'font-size':11,'font-weight':'bold'},'2.0');
 mk(svg,'text',{x:112,y:85,'text-anchor':'middle','font-size':14,'font-style':'italic',transform:'rotate(-90 112 85)'},'Tbr6 , Tbr7 [K]');
 mk(svg,'text',{x:120,y:220,'text-anchor':'middle','font-size':16,'font-style':'italic',transform:'rotate(-90 120 220)'},'τ6');
 mk(svg,'text',{x:115,y:356,'text-anchor':'middle','font-size':18,'font-style':'italic',transform:'rotate(-90 115 356)'},'h/R');
})();

// ===== Table 2 =====
(function(){
 const d=document.getElementById('t2');
 let h='<table style="width:343px;font:10.5px/13.5px \'Liberation Serif\',serif;text-align:center;border-top:1px solid #222;border-bottom:1px solid #222">';
 h+='<tr style="font-style:italic"><td></td><td>R<sub>in</sub></td><td>R<sub>out</sub></td><td>Δ<sub>gap</sub>/R<sub>p</sub></td><td>h<sub>p</sub>/R<sub>p</sub></td><td>M<sub>p</sub> (M<sub>J</sub>)</td></tr>';
 h+='<tr style="border-bottom:1px solid #222"><td></td><td>(AU)</td><td>(AU)</td><td></td><td></td><td>(from the width)</td></tr>';
 t2Names.forEach((n,i)=>{h+='<tr><td>'+n+'</td><td>'+t2Rin[i]+'</td><td>'+t2Rout[i]+'</td><td>'+t2Gap[i].toFixed(2)+'</td><td>'+t2H[i]+'</td><td>'+t2Mp[i]+'</td></tr>';});
 d.innerHTML=h+'</table>';
})();
</script>
</body></html>
